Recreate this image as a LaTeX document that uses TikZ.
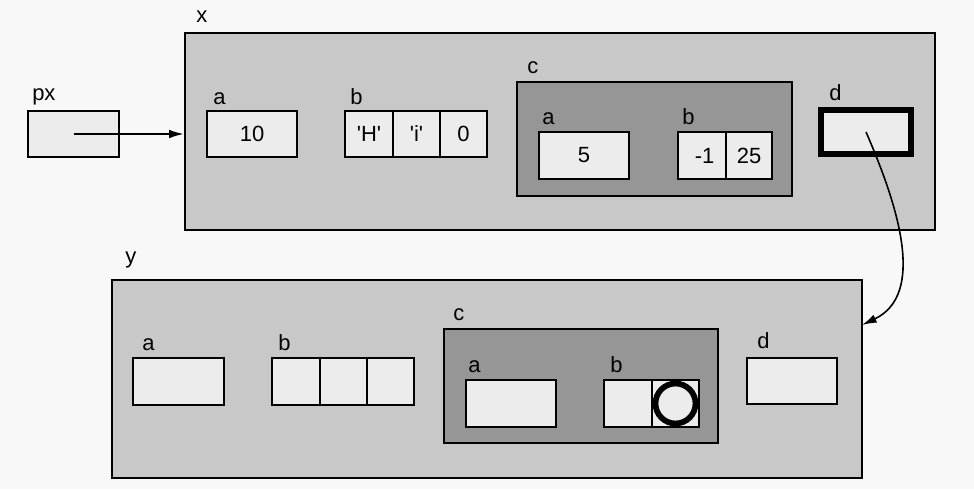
\documentclass[tikz,border=0pt]{standalone}
\usepackage{fontspec}
\setmainfont{Liberation Sans}[Ligatures=TeXOff]
\usetikzlibrary{fit,arrows.meta}
\definecolor{outerg}{RGB}{200,200,200}
\definecolor{innerg}{RGB}{150,150,150}
\definecolor{cellg}{RGB}{236,236,236}
\definecolor{paper}{RGB}{248,248,248}
\begin{document}
\begin{tikzpicture}[x=0.75pt,y=-0.75pt,
  every node/.style={font=\fontsize{16.5}{19}\selectfont},
  outerbox/.style={draw, fill=outerg, line width=1.9pt, inner sep=0pt},
  innerbox/.style={draw, fill=innerg, line width=1.9pt, inner sep=0pt},
  cellbox/.style={draw, fill=cellg, line width=1.9pt, inner sep=0pt},
  thickbox/.style={draw, fill=cellg, line width=4pt, inner sep=0pt},
  val/.style={anchor=center, inner sep=0pt},
  lbl/.style={anchor=base west, inner sep=0pt},
  ptr/.style={line width=1.2pt, -{Latex[length=11pt,width=6.5pt]}}]
\fill[paper] (0,0) rectangle (974,489);
\useasboundingbox (0,0) rectangle (974,489);

% ---------- px ----------
\node[cellbox, fit={(28,111) (119,157)}] (px) {};
\node[lbl] (pxl) at (32,100) {px};

% ---------- x ----------
\node[outerbox, fit={(185,33) (935,230)}] (x) {};
\node[lbl] (xl) at (196,22) {x};

\node[cellbox, fit={(207,111) (297,157)}] (xa) {};
\node[val] (xav) at (xa.center) {10};
\node[lbl] (xal) at (213,104) {a};

\node[cellbox, fit={(345,111) (393,157)}] (xb1) {};
\node[cellbox, fit={(393,111) (440,157)}] (xb2) {};
\node[cellbox, fit={(440,111) (487,157)}] (xb3) {};
\node[val] (xb1v) at (xb1.center) {'H'};
\node[val] (xb2v) at (xb2.center) {'i'};
\node[val] (xb3v) at (xb3.center) {0};
\node[lbl] (xbl) at (350,104) {b};

\node[innerbox, fit={(517,82) (792,196)}] (xc) {};
\node[lbl] (xcl) at (527,73) {c};
\node[cellbox, fit={(539,132) (629,179)}] (xca) {};
\node[val] (xcav) at (xca.center) {5};
\node[lbl] (xcal) at (542,124) {a};
\node[cellbox, fit={(678,132) (726,179)}] (xcb1) {};
\node[cellbox, fit={(726,132) (772,179)}] (xcb2) {};
\node[val] (xcb1v) at ([xshift=2pt]xcb1.center) {-1};
\node[val] (xcb2v) at (xcb2.center) {25};
\node[lbl] (xcbl) at (682,124) {b};

\node[thickbox, fit={(821,110) (911,154)}] (xd) {};
\node[lbl] (xdl) at (829,100) {d};

% ---------- y ----------
\node[outerbox, fit={(112,280) (862,478)}] (y) {};
\node[lbl] (yl) at (125,263) {y};

\node[cellbox, fit={(133,358) (224,405)}] (ya) {};
\node[lbl] (yal) at (142,350) {a};

\node[cellbox, fit={(272,358) (320,405)}] (yb1) {};
\node[cellbox, fit={(320,358) (367,405)}] (yb2) {};
\node[cellbox, fit={(367,358) (414,405)}] (yb3) {};
\node[lbl] (ybl) at (278,350) {b};

\node[innerbox, fit={(444,329) (718,443)}] (yc) {};
\node[lbl] (ycl) at (453,320) {c};
\node[cellbox, fit={(466,380) (556,427)}] (yca) {};
\node[lbl] (ycal) at (468,372) {a};
\node[cellbox, fit={(604,380) (652,427)}] (ycb1) {};
\node[cellbox, fit={(652,380) (699,427)}] (ycb2) {};
\node[lbl] (ycbl) at (610,372) {b};
\node[circle, draw, line width=4.3pt, minimum size=30pt, inner sep=0pt] (ring) at (ycb2.center) {};

\node[cellbox, fit={(747,358) (837,404)}] (yd) {};
\node[lbl] (ydl) at (757,348) {d};

% ---------- pointers ----------
\draw[ptr] (px.center) -- (px.center -| x.west);
\coordinate (yin) at (862,325);
\draw[ptr] (xd.center) .. controls (900,210) and (925,295) .. (yin);
\end{tikzpicture}
\end{document}
